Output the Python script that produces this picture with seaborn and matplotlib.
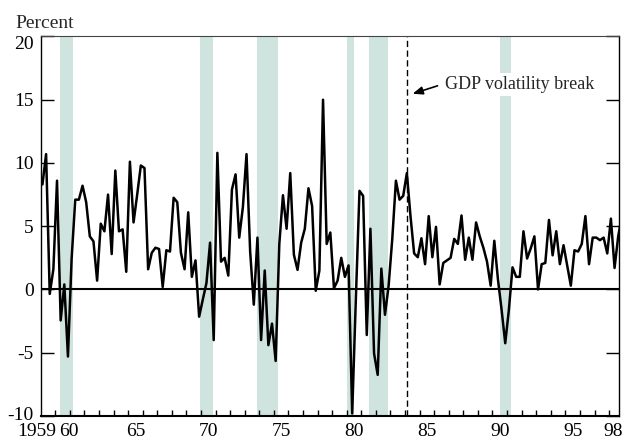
import numpy as np
import pandas as pd
import matplotlib
matplotlib.use("Agg")
import matplotlib.pyplot as plt
from matplotlib.transforms import ScaledTranslation
import seaborn as sns


years = list(range(1959, 1999))
growth = [
    8.3, 10.7, -0.35, 1.6,      # 1959
    8.6, -2.45, 0.4, -5.3,      # 1960
    2.4, 7.1, 7.1, 8.2,         # 1961
    6.9, 4.2, 3.8, 0.7,         # 1962
    5.2, 4.6, 7.5, 2.8,         # 1963
    9.4, 4.6, 4.75, 1.4,        # 1964
    10.1, 5.3, 7.5, 9.8,        # 1965
    9.6, 1.6, 2.9, 3.3,         # 1966
    3.2, 0.2, 3.1, 3.0,         # 1967
    7.25, 6.9, 2.9, 1.6,        # 1968
    6.1, 1.0, 2.3, -2.15,       # 1969
    -0.8, 0.5, 3.7, -4.0,       # 1970
    10.8, 2.2, 2.5, 1.1,        # 1971
    7.9, 9.1, 4.1, 6.5,         # 1972
    10.7, 3.0, -1.2, 4.1,       # 1973
    -4.0, 1.5, -4.4, -2.7,      # 1974
    -5.65, 3.6, 7.45, 4.8,      # 1975
    9.2, 2.75, 1.55, 3.7,       # 1976
    4.8, 8.0, 6.6, -0.1,        # 1977
    1.5, 15.0, 3.6, 4.5,        # 1978
    0.1, 0.7, 2.5, 1.0,         # 1979
    1.9, -9.8, -0.8, 7.8,       # 1980
    7.4, -3.6, 4.8, -5.05,      # 1981
    -6.75, 1.65, -2.0, 0.3,     # 1982
    4.0, 8.6, 7.1, 7.4,         # 1983
    9.2, 5.8, 2.85, 2.55,       # 1984
    4.05, 2.0, 5.8, 2.55,       # 1985
    4.95, 0.4, 2.1, 2.3,        # 1986
    2.5, 4.0, 3.6, 5.85,        # 1987
    2.35, 4.1, 2.35, 5.3,       # 1988
    4.2, 3.3, 2.2, 0.3,         # 1989
    3.85, 0.8, -1.6, -4.25,     # 1990
    -1.6, 1.75, 1.0, 1.0,       # 1991
    4.6, 2.45, 3.25, 4.2,       # 1992
    0.0, 2.0, 2.1, 5.5,         # 1993
    2.7, 4.6, 2.0, 3.5,         # 1994
    1.9, 0.3, 3.1, 3.0,         # 1995
    3.6, 5.8, 2.0, 4.1,         # 1996
    4.1, 3.9, 4.1, 2.85,        # 1997
    5.6, 1.7, 4.2, 5.8,         # 1998
]

# recessions (shaded)
rec_start = [1960.33, 1969.9, 1973.83, 1980.0, 1981.5, 1990.52]
rec_end = [1961.2, 1970.8, 1975.3, 1980.53, 1982.82, 1991.3]

break_date = 1984.125
break_label = "GDP volatility break"
tick_labels = ["1959", "60", "65", "70", "75", "80", "85", "90", "95", "98"]


sns.set_theme(style="white")
plt.rcParams["font.family"] = ["Liberation Serif", "DejaVu Serif"]
plt.rcParams["axes.unicode_minus"] = False

dates = [y + (q - 0.5) / 4 for y in years for q in range(1, 5)]
df = pd.DataFrame({"date": dates, "growth": growth})

fig = plt.figure(figsize=(6.25, 4.47), dpi=100)
ax = fig.add_axes([0.065, 0.0694, 0.9254, 0.849])

for s, e in zip(rec_start, rec_end):
    ax.axvspan(s, e, color="#cfe3df", lw=0, zorder=0)

ax.axhline(0, color="black", lw=1.5, zorder=2)
sns.lineplot(data=df, x="date", y="growth", color="black", lw=1.8, ax=ax, zorder=3)
ax.axvline(break_date, color="black", lw=1, ls=(0, (4.5, 2.5)), zorder=2)

ax.text(1986.72, 16.2, break_label, fontsize=13, ha="left", va="center",
        bbox=dict(facecolor="white", edgecolor="none", pad=2.5), zorder=4)
ax.annotate("", xy=(1984.52, 15.47), xytext=(1986.23, 16.1),
            arrowprops=dict(arrowstyle="-|>,head_length=0.5,head_width=0.2",
                            color="black", lw=1.2, shrinkA=0, shrinkB=0),
            zorder=4)

ax.set_xlim(1959, 1998.68)
ax.set_ylim(-10, 20)
ax.set_xlabel("")
ax.set_ylabel("")

ax.set_yticks([-10, -5, 0, 5, 10, 15, 20])
ax.tick_params(axis="y", direction="in", length=9.4, width=1, left=True, right=True,
               labelsize=14, pad=4.8, colors="black")

label_pos = [1959.0, 1960.95, 1965.5, 1970.5, 1975.5, 1980.5, 1985.5, 1990.5, 1995.5, 1998.26]
ax.set_xticks(label_pos)
ax.set_xticklabels(tick_labels)
ax.set_xticks(np.arange(1960, 1999), minor=True)
ax.tick_params(axis="x", which="major", length=0, labelsize=14, pad=5, colors="black")
ax.tick_params(axis="x", which="minor", direction="in", length=4.3, width=1,
               bottom=True, top=False, colors="black")

# nudge the crowded corner labels like the original
first = ax.get_xticklabels()[0]
first.set_transform(first.get_transform() + ScaledTranslation(-0.036, 0, fig.dpi_scale_trans))
top_lab = ax.get_yticklabels()[-1]
top_lab.set_transform(top_lab.get_transform() + ScaledTranslation(0, -0.06, fig.dpi_scale_trans))
bot_lab = ax.get_yticklabels()[0]
bot_lab.set_transform(bot_lab.get_transform() + ScaledTranslation(0, 0.02, fig.dpi_scale_trans))

for side in ["left", "right", "top", "bottom"]:
    ax.spines[side].set_visible(True)
    ax.spines[side].set_color("black")
    ax.spines[side].set_linewidth(1)
ax.spines["bottom"].set_linewidth(1.5)
ax.spines["top"].set_color("#444444")
ax.spines["top"].set_linewidth(0.8)

fig.text(15 / 625, 1 - 28 / 447, "Percent", fontsize=14, ha="left", va="baseline")

fig.savefig("out.png", dpi=100)
